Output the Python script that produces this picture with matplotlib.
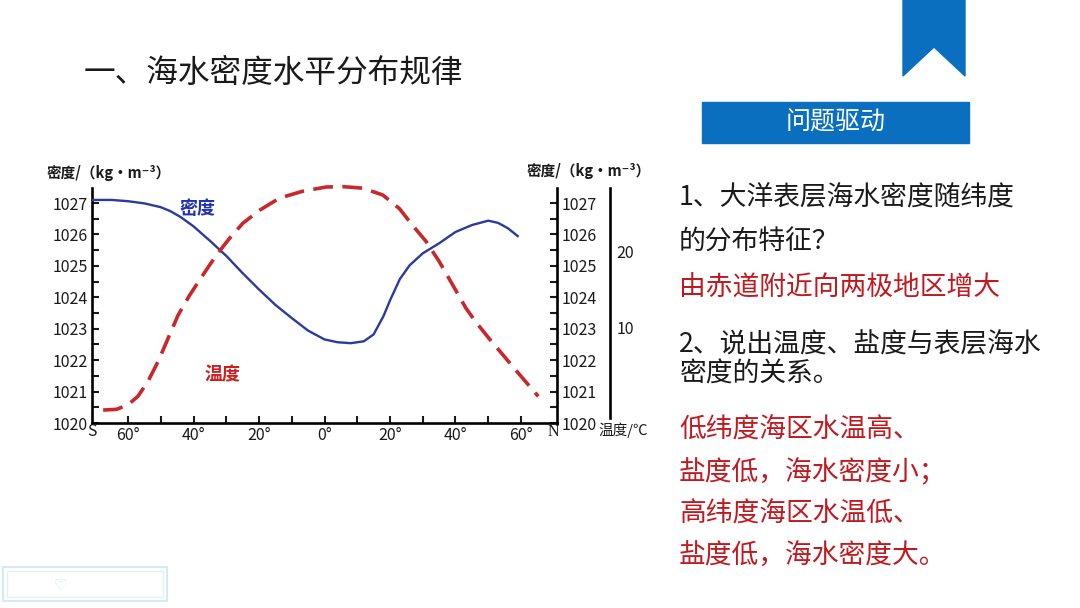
import matplotlib.pyplot as plt
from matplotlib.patches import Polygon, Rectangle
from matplotlib.ticker import MultipleLocator, FixedLocator

plt.rcParams['font.family'] = ['Noto Sans CJK SC', 'DejaVu Sans']

# density curve (latitude, kg/m3), S negative
LAT_DENSITY = [-71, -65, -60, -55, -50, -47, -44, -40, -35, -30, -25, -20, -15, -10, -5, 0,
               4, 8, 12, 15, 18, 20, 23, 26, 30, 35, 40, 45, 50, 53, 56, 59]
DENSITY = [1027.10, 1027.10, 1027.06, 1026.99, 1026.87, 1026.74, 1026.56, 1026.26, 1025.80,
           1025.32, 1024.77, 1024.25, 1023.76, 1023.34, 1022.94, 1022.66,
           1022.57, 1022.54, 1022.60, 1022.82, 1023.40, 1023.90, 1024.58, 1025.02, 1025.40,
           1025.72, 1026.08, 1026.30, 1026.44, 1026.37, 1026.20, 1025.95]

# temperature curve (latitude, degC)
LAT_TEMP = [-67.6, -63.5, -60, -57, -54, -50.8, -47.8, -44.7, -41.2, -37.1, -33, -29, -24.9,
            -19.8, -13.7, -6.6, 0.5, 5.6, 11.7, 17.8, 22.9, 26.9, 31, 35.1, 39.1, 43.2,
            46.2, 50.3, 55.4, 60.5, 65.3]
TEMP = [-0.8, -0.7, -0.1, 1.0, 2.9, 5.6, 8.6, 11.7, 14.3, 17.0, 19.6, 21.8, 23.8,
        25.5, 27.1, 28.0, 28.55, 28.6, 28.4, 27.5, 25.7, 23.5, 21.4, 18.7, 15.7, 12.6,
        10.8, 8.6, 6.0, 3.4, 1.0]

LAT_TICKS = [-60, -40, -20, 0, 20, 40, 60]
LAT_LABELS = ['60°', '40°', '20°', '0°', '20°', '40°', '60°']
DENSITY_TICKS = [1020, 1021, 1022, 1023, 1024, 1025, 1026, 1027]
TEMP_TICKS = [10, 20]

QUESTIONS = [
    ('1、大洋表层海水密度随纬度', 198, 'k'),
    ('的分布特征？', 242, 'k'),
    ('由赤道附近向两极地区增大', 288, 'r'),
    ('2、说出温度、盐度与表层海水', 345, 'k'),
    ('密度的关系。', 374, 'k'),
    ('低纬度海区水温高、', 430, 'r'),
    ('盐度低，海水密度小；', 472, 'r'),
    ('高纬度海区水温低、', 514, 'r'),
    ('盐度低，海水密度大。', 556, 'r'),
]

W, H = 1080, 608
BLUE = '#0b6fc0'
DARK_RED = '#c0191f'
TEXT = '#1a1a1a'

fig = plt.figure(figsize=(10.8, 6.08), dpi=100)

# page decorations in pixel coordinates
deco = fig.add_axes([0, 0, 1, 1])
deco.set_xlim(0, W)
deco.set_ylim(H, 0)
deco.axis('off')

deco.add_patch(Polygon([(903, 0), (965, 0), (965, 76), (934, 47), (903, 76)],
                       closed=True, color=BLUE))
deco.add_patch(Rectangle((702, 102), 267, 41, color=BLUE))
deco.text(836, 123, '问题驱动', color='white', fontsize=18, ha='center', va='center')

deco.text(84, 73, '一、海水密度水平分布规律', color=TEXT, fontsize=22.8, ha='left', va='center')

for txt, y, c in QUESTIONS:
    deco.text(679, y, txt, color=TEXT if c == 'k' else DARK_RED, fontsize=19.3,
              ha='left', va='center')

# faint watermark box bottom-left
deco.add_patch(Rectangle((3, 567), 164, 34, fill=False, ec='#d5eaf5', lw=1.5))
deco.add_patch(Rectangle((7, 571), 156, 26, fill=False, ec='#e3f1f8', lw=1))
deco.text(60, 585, '♡', color='#cfe5f2', fontsize=11, ha='center', va='center',
          family=['DejaVu Sans'])

# axis titles
deco.text(47, 173, '密度/（kg·m⁻³）', color=TEXT, fontsize=10.5, fontweight='bold',
          ha='left', va='center')
deco.text(527, 171, '密度/（kg·m⁻³）', color=TEXT, fontsize=10.5, fontweight='bold',
          ha='left', va='center')
deco.text(598, 430, '温度/℃', color=TEXT, fontsize=10.5, ha='left', va='center')

# chart
ax = fig.add_axes([92 / W, 1 - 423 / H, 465 / W, 235 / H])
ax.patch.set_alpha(0)
ax.set_xlim(-71, 71)
ax.set_ylim(1020, 1027.48)

ax.plot(LAT_DENSITY, DENSITY, color='#2b3a9c', lw=1.7, zorder=3)

ax.text(-38.7, 1026.84, '密度', color='#2233a8', fontsize=13, fontweight='bold',
        ha='center', va='center')
ax.text(-31.1, 1021.53, '温度', color='#cc2020', fontsize=13, fontweight='bold',
        ha='center', va='center')

# temperature axis
ax2 = ax.twinx()
ax2.set_ylim(-2.5, 28.42)
ax2.spines['right'].set_position(('outward', 38))
ax2.spines['right'].set_linewidth(1.9)
ax2.spines['right'].set_bounds(-1.8, 28.42)
for s in ('left', 'top', 'bottom'):
    ax2.spines[s].set_visible(False)
ax2.set_yticks(TEMP_TICKS)
ax2.tick_params(axis='y', length=0, pad=5, labelsize=11.5, colors=TEXT)

ax2.plot(LAT_TEMP, TEMP, color='#c8282c', lw=2.6, linestyle=(0, (5.5, 2.6)),
         clip_on=False, zorder=3)

# density axis styling (after twinx, which resets the right ticks)
ax.spines['top'].set_visible(False)
for s in ('left', 'right', 'bottom'):
    ax.spines[s].set_linewidth(1.9)

ax.set_xticks(LAT_TICKS)
ax.set_xticklabels(LAT_LABELS)
ax.xaxis.set_minor_locator(FixedLocator([-50, -30, -10, 10, 30, 50]))
ax.set_yticks(DENSITY_TICKS)
ax.yaxis.set_minor_locator(MultipleLocator(0.5))
ax.tick_params(axis='both', which='both', direction='in', width=1.5, length=5,
               labelsize=11.5, colors=TEXT)
ax.tick_params(axis='y', which='both', left=True, right=True, labelleft=True,
               labelright=True, pad=3)
ax.tick_params(axis='x', pad=3)

ax.text(-71, 1019.72, 'S', fontsize=11.5, ha='center', va='center', color=TEXT)
ax.text(70, 1019.72, 'N', fontsize=11.5, ha='center', va='center', color=TEXT,
        family=['Liberation Serif'])

fig.savefig('out.png', dpi=100)
